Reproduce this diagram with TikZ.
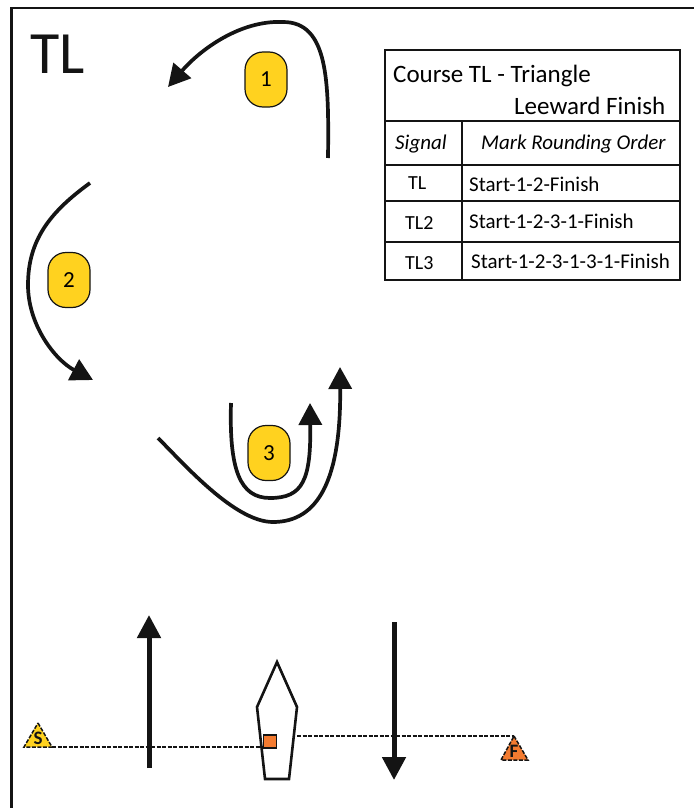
\documentclass[tikz,border=0pt]{standalone}
\usepackage{fontspec}
\setmainfont{Carlito}
\usetikzlibrary{arrows.meta}
\definecolor{badgeyellow}{HTML}{FFD21F}
\definecolor{markorange}{HTML}{F47B30}
\definecolor{inkblack}{HTML}{141414}
\tikzset{
  route/.style={draw=inkblack,line width=3.7pt,-{Triangle[length=22pt,width=23pt]}},
  wind/.style={draw=inkblack,line width=5pt,-{Triangle[length=23pt,width=23pt]}},
  badge/.style={draw=inkblack,line width=1.2pt,fill=badgeyellow,rounded corners=18pt,minimum width=42pt,minimum height=55pt,inner sep=0pt,font=\fontsize{23}{26}\selectfont},
  gridline/.style={draw=inkblack,line width=2.4pt},
  ttl/.style={anchor=base west,inner sep=0pt,font=\fontsize{25}{28}\selectfont},
  cell/.style={anchor=base west,inner sep=0pt,font=\fontsize{21}{24}\selectfont},
  sigcell/.style={anchor=base west,inner sep=0pt,font=\fontsize{20}{24}\selectfont},
  hcell/.style={anchor=base west,inner sep=0pt,font=\fontsize{21}{24}\selectfont\itshape},
  startline/.style={draw=inkblack,line width=2pt,dash pattern=on 4pt off 1.5pt},
}
\begin{document}
\begin{tikzpicture}[x=1pt,y=-1pt]
\useasboundingbox (0,0) rectangle (694,808);
% frame
\coordinate (fbl) at (11.5,808);
\coordinate (ftl) at (11.5,8);
\coordinate (ftr) at (694,8);
\draw[draw=inkblack,line width=2.2pt] (fbl) -- (ftl) -- (ftr);
\node[anchor=base west,inner sep=0pt,font=\fontsize{60}{62}\selectfont,text=inkblack] (title) at (30,74) {TL};
% table
\draw[gridline] (385,50) rectangle (680,280);
\draw[gridline] (385,121) -- (680,121);
\draw[gridline] (385,165) -- (680,165);
\draw[gridline] (385,201) -- (680,201);
\draw[gridline] (385,242) -- (680,242);
\draw[gridline] (462,121) -- (462,280);
\node[ttl] (t1) at (393,82) {Course TL - Triangle};
\node[ttl] (t2) at (514,114) {Leeward Finish};
\node[hcell] (h1) at (395,149) {Signal};
\node[hcell] (h2) at (481,149) {Mark Rounding Order};
\node[sigcell] (s1) at (408,189) {TL};
\node[sigcell] (s2) at (405,229) {TL2};
\node[sigcell] (s3) at (405,269) {TL3};
\node[cell] (o1) at (469,191) {Start-1-2-Finish};
\node[cell] (o2) at (469,228) {Start-1-2-3-1-Finish};
\node[cell] (o3) at (471,268) {Start-1-2-3-1-3-1-Finish};
% badges
\node[badge] (b1) at (266,79.5) {1};
\node[badge] (b2) at (69,280) {2};
\node[badge] (b3) at (269,453) {3};
% routes
\draw[route] (328,158) .. controls (329,80) and (328,22) .. (283,22) .. controls (240,20) and (200,50) .. (168,87);
\draw[route] (90,183) .. controls (50,212) and (28,240) .. (28,285) .. controls (28,325) and (55,360) .. (93,380);
\draw[route] (231,403) .. controls (229,470) and (240,498) .. (270,498) .. controls (303,498) and (311,480) .. (310,403);
\draw[route] (158,438) .. controls (185,465) and (235,522) .. (273,522) .. controls (318,522) and (341,480) .. (340,367);
% wind arrows
\coordinate (w1s) at (149,768);
\coordinate (w1e) at (149,615);
\coordinate (w2s) at (394,622);
\coordinate (w2e) at (394,780);
% start line
\coordinate (sl1) at (263,747);
\coordinate (sr1) at (297,736);
% marks
\path[fill=badgeyellow] (38,723) -- (52,747) -- (24,747) -- cycle;
\draw[startline,line width=1.5pt] (38,723) -- (52,747) -- (24,747) -- cycle;
\node[inner sep=0pt,font=\fontsize{19}{19}\selectfont\bfseries,text=inkblack] (st) at (38,738) {S};
\path[fill=markorange] (514,736) -- (528,760) -- (501,760) -- cycle;
\draw[startline,line width=1.5pt] (514,736) -- (528,760) -- (501,760) -- cycle;
\node[inner sep=0pt,font=\fontsize{19}{19}\selectfont\bfseries,text=inkblack] (ft) at (514,751) {F};
\coordinate (fa) at (514,736);
\coordinate (sa) at (52,747);
\draw[startline] (sa) -- (sl1);
\draw[startline] (sr1) -- (fa);
\draw[wind] (w1s) -- (w1e);
\draw[wind] (w2s) -- (w2e);
% boat
\draw[draw=inkblack,line width=2.6pt,line join=miter] (277,662) -- (297,707) -- (289,779) -- (265,779) -- (257,707) -- cycle;
\draw[draw=inkblack,line width=1.2pt,fill=markorange] (263.5,735) rectangle (276.5,748);
\end{tikzpicture}
\end{document}
